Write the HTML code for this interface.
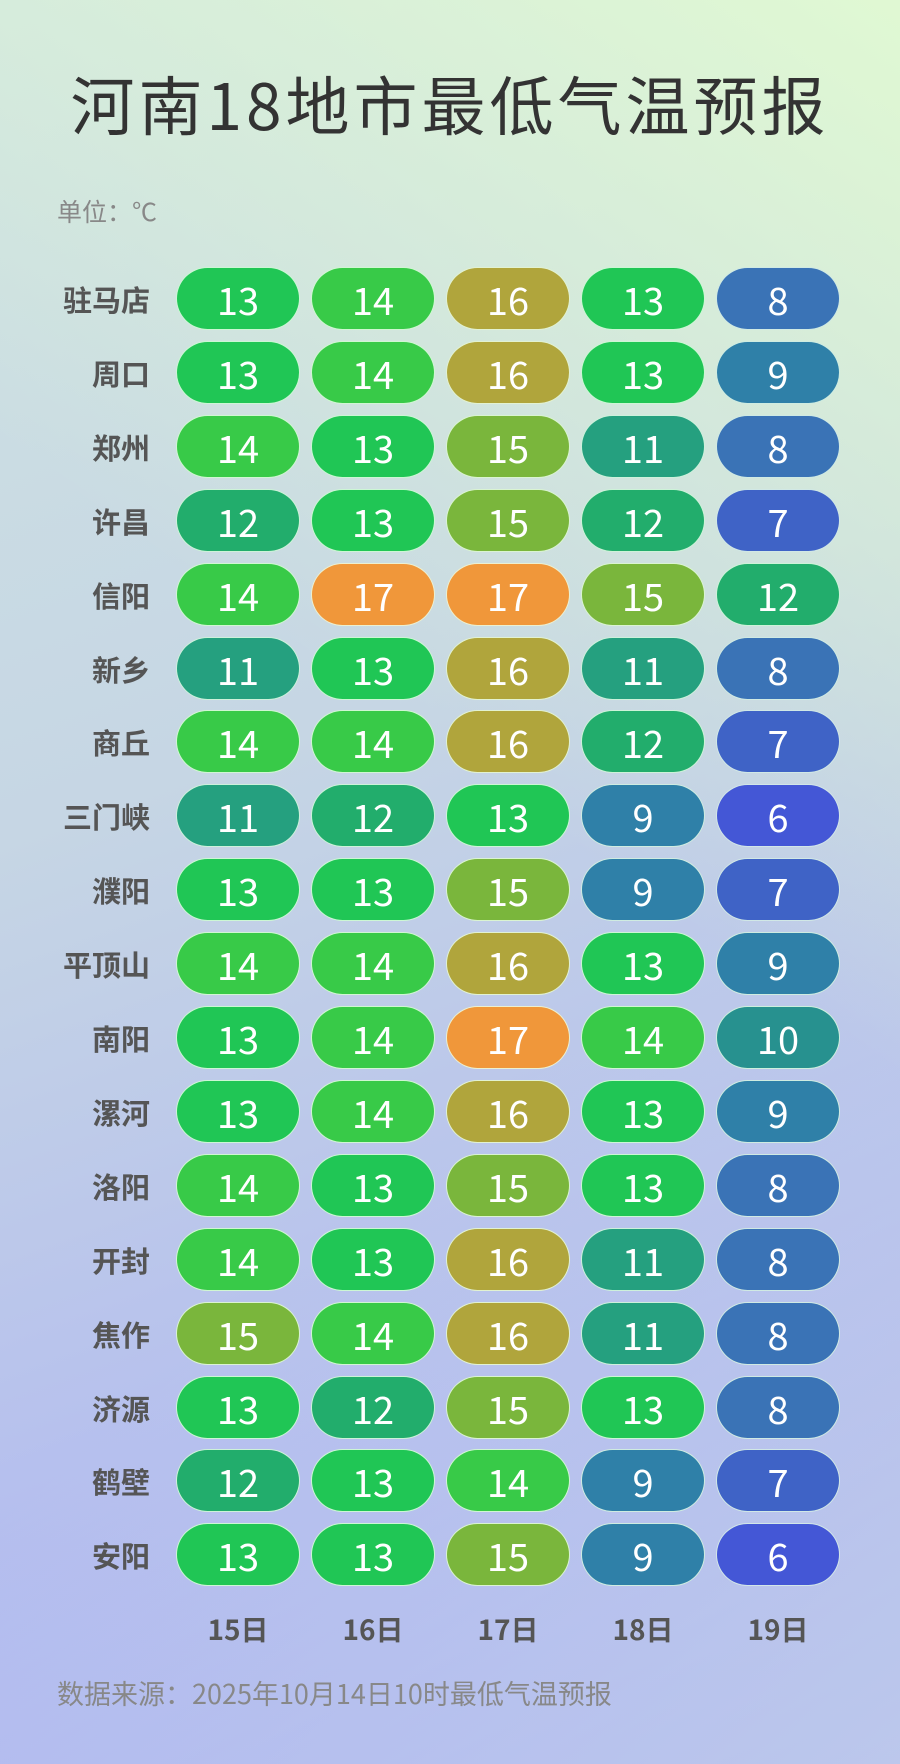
<!DOCTYPE html>
<html><head><meta charset="utf-8"><style>
html,body{margin:0;padding:0}
body{width:900px;height:1764px;position:relative;overflow:hidden;font-family:"Liberation Sans","Noto Sans CJK SC",sans-serif;
background:linear-gradient(160deg,#cfe3e2 0%,#c6d6e4 40%,#b4bdef 75%,#a9b0f4 100%);}
.ov{position:absolute;inset:0;background:linear-gradient(215deg,rgba(225,250,210,0.95) 0%,rgba(225,250,210,0) 45%),linear-gradient(320deg,rgba(200,215,230,0.6) 0%,rgba(200,215,230,0) 40%)}
.t{position:absolute;left:0;width:900px;top:60px;text-align:center;font-size:64px;letter-spacing:4px;color:#333;line-height:86px;font-family:"Noto Sans CJK SC",sans-serif}
.u{position:absolute;left:57px;top:193px;font-size:25px;color:#888;font-family:"Noto Sans CJK SC",sans-serif}
.f{position:absolute;left:57px;top:1673px;font-size:27px;color:#888;font-family:"Noto Sans CJK SC",sans-serif}
.c{position:absolute;right:750px;font-size:29px;font-weight:bold;color:#555;font-family:"Noto Sans CJK SC",sans-serif;line-height:64px;white-space:nowrap}
.p{position:absolute;width:122px;height:61px;border:1.5px solid rgba(235,255,235,0.85);border-radius:32px;color:#fff;font-size:38px;text-align:center;line-height:61px;font-family:"Noto Sans CJK SC",sans-serif}
.d{position:absolute;top:1609px;width:124px;text-align:center;font-size:28px;font-weight:bold;color:#555;font-family:"Noto Sans CJK SC",sans-serif}
</style></head><body><div class="ov"></div>
<div class="t">河南18地市最低气温预报</div>
<div class="u">单位：℃</div>
<div id="g"></div>
<div class="d" style="left:176px">15日</div><div class="d" style="left:311px">16日</div><div class="d" style="left:446px">17日</div><div class="d" style="left:581px">18日</div><div class="d" style="left:716px">19日</div>
<div class="f">数据来源：2025年10月14日10时最低气温预报</div>
<script>
var rows=[["驻马店",13,14,16,13,8],["周口",13,14,16,13,9],["郑州",14,13,15,11,8],["许昌",12,13,15,12,7],["信阳",14,17,17,15,12],["新乡",11,13,16,11,8],["商丘",14,14,16,12,7],["三门峡",11,12,13,9,6],["濮阳",13,13,15,9,7],["平顶山",14,14,16,13,9],["南阳",13,14,17,14,10],["漯河",13,14,16,13,9],["洛阳",14,13,15,13,8],["开封",14,13,16,11,8],["焦作",15,14,16,11,8],["济源",13,12,15,13,8],["鹤壁",12,13,14,9,7],["安阳",13,13,15,9,6]];
var col={6:"#4457d6",7:"#3f63c6",8:"#3a73b6",9:"#2f80a8",10:"#27918f",11:"#25a07f",12:"#22ad6c",13:"#20c655",14:"#38ca48",15:"#7ab63c",16:"#b0a53c",17:"#f0973a"};
var h="";
rows.forEach(function(r,i){var y=267+i*73.9;
h+='<div class="c" style="top:'+y+'px">'+r[0]+'</div>';
for(var j=1;j<6;j++){h+='<div class="p" style="left:'+(176+(j-1)*135)+'px;top:'+y+'px;background:'+col[r[j]]+'">'+r[j]+'</div>';}});
document.getElementById("g").innerHTML=h;
</script>
</body></html>
